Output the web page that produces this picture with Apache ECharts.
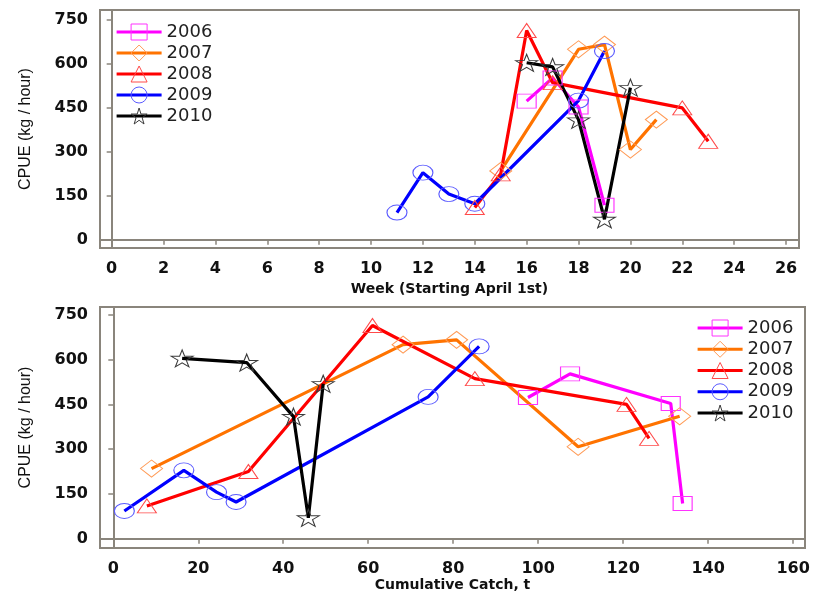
<!DOCTYPE html>
<html>
<head>
<meta charset="utf-8">
<script src="https://cdn.jsdelivr.net/npm/echarts@6/dist/echarts.min.js"></script>
<style>
  html, body { margin: 0; padding: 0; background: #ffffff; }
  #chart { width: 815px; height: 599px; }
</style>
</head>
<body>
<div id="chart"></div>
<script>
// Seasons shown in both panels
const years = ['2006', '2007', '2008', '2009', '2010'];

// Sampling week (weeks from April 1st) for each season
const week2006 = [16, 17, 18, 19];
const week2007 = [15, 18, 19, 20, 21];
const week2008 = [14, 15, 16, 17, 22, 23];
const week2009 = [11, 12, 13, 14, 18, 19];
const week2010 = [16, 17, 18, 19, 20];

// Cumulative catch (t) at each sampling
const catch2006 = [97.6, 107.5, 131.2, 134.0];
const catch2007 = [9.0, 68.2, 80.8, 109.4, 133.3];
const catch2008 = [7.9, 31.8, 61.0, 85.1, 120.8, 126.1];
const catch2009 = [2.6, 16.6, 24.3, 28.9, 74.1, 86.1];
const catch2010 = [16.2, 31.4, 42.4, 45.9, 49.4];

// CPUE (kg / hour) at each sampling
const cpue2006 = [473, 552, 453, 118];
const cpue2007 = [235, 650, 666, 308, 410];
const cpue2008 = [110, 225, 714, 536, 450, 336];
const cpue2009 = [93, 229, 156, 123, 475, 644];
const cpue2010 = [604, 590, 409, 70, 519];

// Tick labels
const weekTicks = [0, 2, 4, 6, 8, 10, 12, 14, 16, 18, 20, 22, 24, 26];
const catchTicks = [0, 20, 40, 60, 80, 100, 120, 140, 160];
const cpueTicks = [0, 150, 300, 450, 600, 750];

const weeks = [week2006, week2007, week2008, week2009, week2010];
const catches = [catch2006, catch2007, catch2008, catch2009, catch2010];
const cpues = [cpue2006, cpue2007, cpue2008, cpue2009, cpue2010];

const STAR = 'path://M50,2 L61,36 L97,36 L68,57 L79,92 L50,71 L21,92 L32,57 L3,36 L39,36 Z';
const styles = [
  { line: '#ff00ff', mark: '#ff33ff', symbol: 'rect',     size: [19, 14] },
  { line: '#ff7300', mark: '#ff9a55', symbol: 'diamond',  size: [22, 17] },
  { line: '#ff0000', mark: '#ff4a4a', symbol: 'triangle', size: [19, 14] },
  { line: '#0000ff', mark: '#5a5aff', symbol: 'circle',   size: [20, 15] },
  { line: '#000000', mark: '#3a3a3a', symbol: STAR,       size: [22, 17] }
];

const frameColor = '#8a857c';
const tickFont = { fontFamily: 'DejaVu Sans', fontWeight: 'bold', fontSize: 16, color: '#111' };

function xAxisFor(gridIndex, min, max, ticks, name, gap) {
  return {
    type: 'value', gridIndex, min, max,
    name, nameLocation: 'middle', nameGap: gap,
    nameTextStyle: { fontFamily: 'DejaVu Sans', fontWeight: 'bold', fontSize: 14, color: '#111' },
    splitLine: { show: false },
    axisLine: { show: true, lineStyle: { color: frameColor, width: 2 } },
    axisTick: { show: true, customValues: ticks, length: 5, lineStyle: { color: frameColor, width: 1.5 } },
    axisLabel: Object.assign({ customValues: ticks, margin: 13 }, tickFont)
  };
}

function yAxisFor(gridIndex, min, max) {
  return {
    type: 'value', gridIndex, min, max,
    name: 'CPUE (kg / hour)', nameLocation: 'middle', nameGap: 66, nameRotate: 90,
    nameTextStyle: { fontFamily: 'Liberation Sans', fontSize: 16, color: '#111' },
    splitLine: { show: false },
    axisLine: { show: true, lineStyle: { color: frameColor, width: 2 } },
    axisTick: { show: true, customValues: cpueTicks, length: 5, lineStyle: { color: frameColor, width: 1.5 } },
    axisLabel: Object.assign({ customValues: cpueTicks, margin: 12 }, tickFont)
  };
}

function seriesFor(axisIndex, xs) {
  return years.map((yr, i) => ({
    name: yr,
    type: 'line',
    xAxisIndex: axisIndex,
    yAxisIndex: axisIndex,
    data: xs[i].map((x, j) => [x, cpues[i][j]]),
    symbol: styles[i].symbol,
    symbolSize: styles[i].size,
    showAllSymbol: true,
    lineStyle: { color: styles[i].line, width: 3.2 },
    itemStyle: { color: 'rgba(0,0,0,0)', borderColor: styles[i].mark, borderWidth: 1 },
    emphasis: { disabled: true },
    animation: false
  }));
}

function legendFor(left, top, gap) {
  return {
    orient: 'vertical', left, top,
    data: years.map((yr, i) => ({
      name: yr,
      itemStyle: { color: 'rgba(0,0,0,0)', borderColor: styles[i].mark, borderWidth: 1 },
      lineStyle: { color: styles[i].line, width: 3.2 }
    })),
    itemWidth: 45, itemHeight: 20, itemGap: gap,
    selectedMode: false,
    textStyle: { fontFamily: 'DejaVu Sans', fontSize: 18, color: '#222', lineHeight: 20 }
  };
}

const chart = echarts.init(document.getElementById('chart'), null, { renderer: 'canvas' });
chart.setOption({
  backgroundColor: '#ffffff',
  animation: false,
  grid: [
    { left: 100, top: 10, right: 16, bottom: 351, show: true, borderColor: frameColor, borderWidth: 2, backgroundColor: '#ffffff' },
    { left: 100, top: 307, right: 10, bottom: 51, show: true, borderColor: frameColor, borderWidth: 2, backgroundColor: '#ffffff' }
  ],
  xAxis: [
    xAxisFor(0, -0.45, 26.5, weekTicks, 'Week (Starting April 1st)', 34),
    xAxisFor(1, -3.13, 162.8, catchTicks, 'Cumulative Catch, t', 22)
  ],
  yAxis: [yAxisFor(0, -28, 784), yAxisFor(1, -31, 776)],
  legend: [legendFor(110, 17, 1), legendFor(691, 313, 1.25)],
  series: seriesFor(0, weeks).concat(seriesFor(1, catches))
});
</script>
</body>
</html>
